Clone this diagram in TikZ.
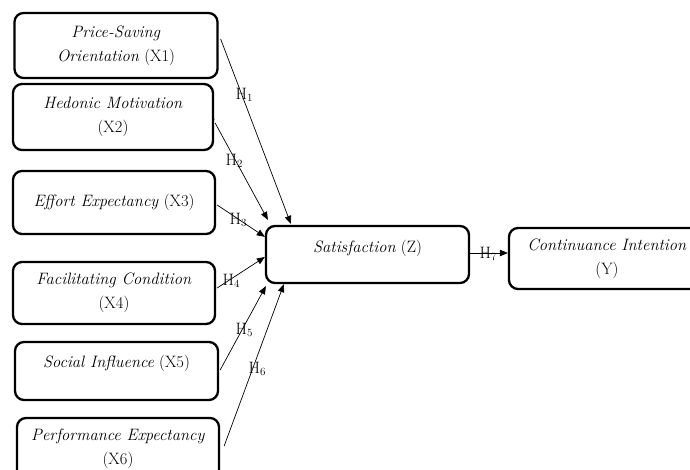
\documentclass[tikz,border=0pt]{standalone}
\usetikzlibrary{arrows.meta,calc}
\begin{document}
\begin{tikzpicture}[x=1pt,y=-1pt,
  box/.style={draw, line width=2.3pt, rounded corners=9pt, align=center,
    inner sep=0pt, font=\fontsize{16.5}{24}\selectfont},
  conn/.style={line width=0.7pt, -{Triangle[length=8pt,width=6.5pt]}},
  plain/.style={line width=0.7pt},
  hl/.style={inner sep=0pt, font=\fontsize{16.5}{18}\selectfont}]
\useasboundingbox (0,0) rectangle (690,470);
\node[box, minimum width=203pt, minimum height=65pt] (x1) at (116,45.5) {\textit{Price-Saving}\\\textit{Orientation} (X1)};
\node[box, minimum width=200pt, minimum height=66pt] (x2) at (113,117) {\textit{Hedonic Motivation}\\(X2)};
\node[box, minimum width=202pt, minimum height=63pt] (x3) at (114,202.5) {\textit{Effort Expectancy} (X3)};
\node[box, minimum width=202pt, minimum height=62pt] (x4) at (114,293) {\textit{Facilitating Condition}\\(X4)};
\node[box, minimum width=203pt, minimum height=58pt, text depth=20pt] (x5) at (116.5,371) {\textit{Social Influence} (X5)};
\node[box, minimum width=202pt, minimum height=62pt] (x6) at (118,449) {\textit{Performance Expectancy}\\(X6)};
\node[box, minimum width=203pt, minimum height=57pt, text depth=17pt] (z) at (367.5,254.5) {\textit{Satisfaction} (Z)};
\node[box, minimum width=196pt, minimum height=61pt] (y) at (607,258.5) {\textit{Continuance Intention}\\(Y)};
% connectors
\draw[conn] ($(x1.east)+(2,-6.5)$) -- ($(z.north west)+(26,-1)$);
\draw[plain] ($(x2.east)+(-1,0)$) -- ($(x2.east)+(0,3)$);
\draw[conn] ($(x2.east)+(1,6)$) -- ($(z.north west)+(3,-5)$);
\draw[conn] ($(x3.east)+(1,2.5)$) -- ($(z.north west)+(0,12)$);
\draw[conn] ($(x4.east)+(1,-5)$) -- ($(z.west)+(0,2.5)$);
\draw[conn] ($(x5.east)+(1,-1)$) -- ($(z.south west)+(1,2)$);
\draw[conn] ($(x6.east)+(4,-3)$) -- ($(z.south west)+(19,0)$);
\draw[conn] ($(z.east)+(0,-1.5)$) -- ($(z.east -| y.west)+(0,-1.5)$);
% labels
\node[hl] (h1) at (244,95) {H\raisebox{-0.35ex}{\fontsize{11}{11}\selectfont 1}};
\node[hl] (h2) at (234,161) {H\raisebox{-0.35ex}{\fontsize{11}{11}\selectfont 2}};
\node[hl] (h3) at (238,220) {H\raisebox{-0.35ex}{\fontsize{11}{11}\selectfont 3}};
\node[hl] (h4) at (231,281) {H\raisebox{-0.35ex}{\fontsize{11}{11}\selectfont 4}};
\node[hl] (h5) at (244,330) {H\raisebox{-0.35ex}{\fontsize{11}{11}\selectfont 5}};
\node[hl] (h6) at (257,369) {H\raisebox{-0.35ex}{\fontsize{11}{11}\selectfont 6}};
\node[hl] (h7) at (488,254) {H\raisebox{-0.35ex}{\fontsize{11}{11}\selectfont 7}};
\end{tikzpicture}
\end{document}
